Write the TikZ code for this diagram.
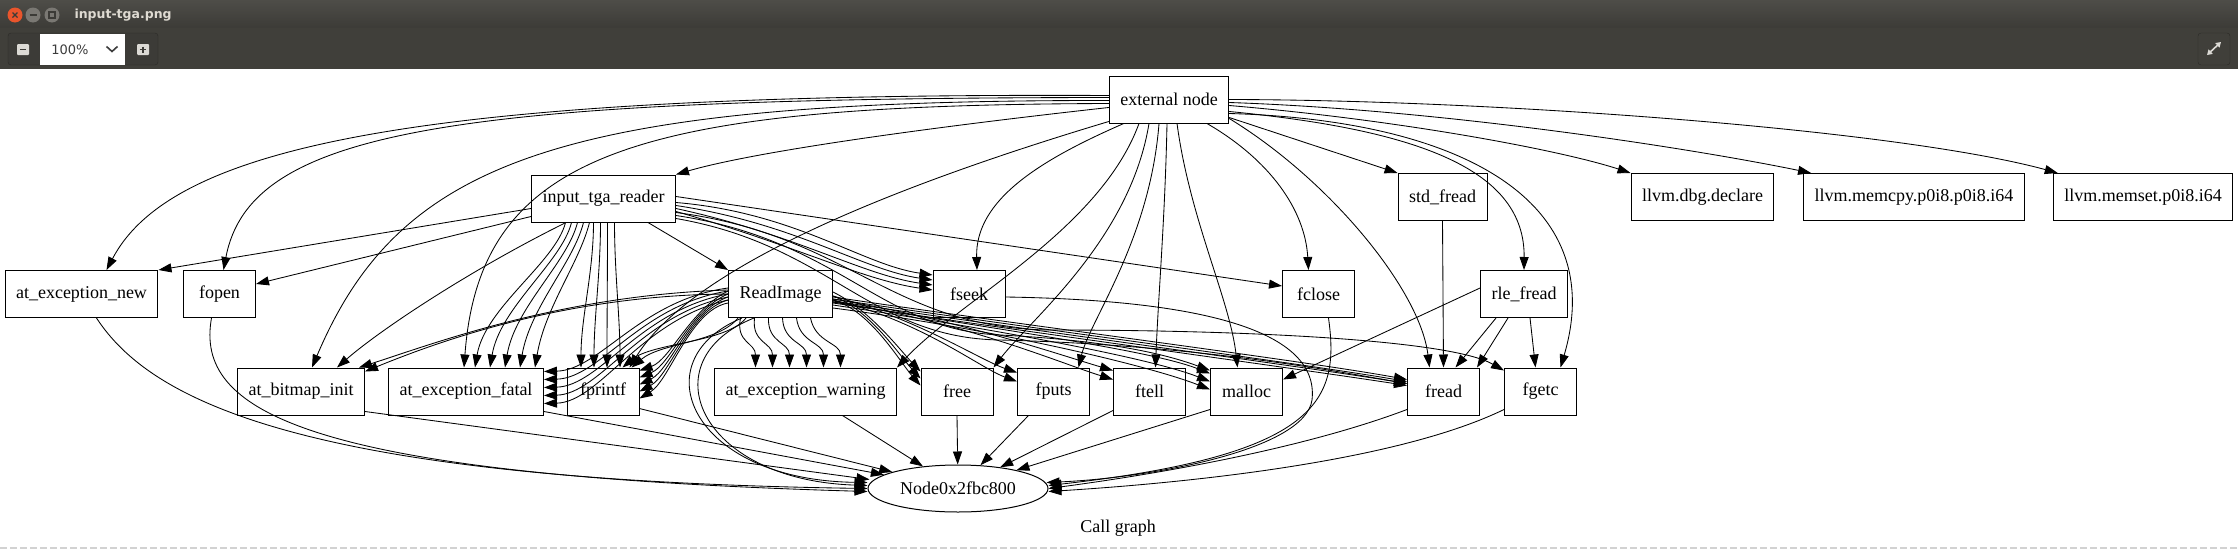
\documentclass[tikz,border=0pt]{standalone}
\usepackage{fontspec}
\setmainfont{Liberation Serif}
\newfontfamily\uifont{DejaVu Sans}
\usetikzlibrary{arrows.meta, calc, shapes.geometric}
\definecolor{titletop}{HTML}{4E4D48}
\definecolor{titlebot}{HTML}{3C3B37}
\definecolor{toolbg}{HTML}{403F3A}
\definecolor{grpborder}{HTML}{2B2A27}
\definecolor{btnlight}{HTML}{DCDAD5}
\definecolor{closered}{HTML}{E9552C}
\definecolor{winbtn}{HTML}{7A7873}
\definecolor{titletext}{HTML}{DFDBD2}
\definecolor{zoomtext}{HTML}{3C3C3C}

\begin{document}
\begin{tikzpicture}[
    x=1pt, y=-1pt,
    fn/.style={draw=black, line width=1pt, font=\fontsize{18}{18}\selectfont,
               minimum width=72pt, minimum height=47pt, inner xsep=11pt},
    arr/.style={-{Triangle[length=13pt, width=9pt]}, line width=0.85pt},
]

\path[use as bounding box] (0,0) rectangle (2238,549);

% ════════════════════════════════════════════════════════
% 0. WINDOW FRAME
% ════════════════════════════════════════════════════════
\shade[top color=titletop, bottom color=titlebot] (0,0) rectangle (2238,28);
\fill[toolbg] (0,28) rectangle (2238,69);
\fill[white] (0,69) rectangle (2238,549);

% Window buttons
\fill[closered] (15,15) circle (7.5);
\draw[titlebot, line width=1.2pt] (12.5,12.5) -- (17.5,17.5) (12.5,17.5) -- (17.5,12.5);
\fill[winbtn] (33,15) circle (7.5);
\draw[titlebot, line width=1.5pt] (29.5,15) -- (36.5,15);
\fill[winbtn] (52,15) circle (7.5);
\draw[titlebot, line width=1.2pt] (49,12) rectangle (55,18);
\node[text=titletext, font=\uifont\bfseries\fontsize{12.5}{14}\selectfont, anchor=west]
    (wintitle) at (71,15) {input-tga.png};

% Zoom controls
\draw[grpborder, fill=titlebot, rounded corners=3pt] (8,33) rectangle (158,65);
\fill[white] (40,34) rectangle (125,65);
\node[text=zoomtext, font=\uifont\fontsize{13}{14}\selectfont] (zoomlevel) at (70,49.5) {100\%};
\draw[zoomtext, line width=1.6pt] (106.5,46.5) -- (112,51.5) -- (117.5,46.5);
\fill[btnlight, rounded corners=1pt] (17,44) rectangle (29,55);
\draw[titlebot, line width=1.5pt] (20,49.5) -- (26,49.5);
\fill[btnlight, rounded corners=1pt] (137,44) rectangle (149,55);
\draw[titlebot, line width=1.5pt] (140,49.5) -- (146,49.5) (143,46.5) -- (143,52.5);

% Fullscreen button
\draw[grpborder, fill=toolbg, rounded corners=3pt] (2198,33) rectangle (2230,65);
\draw[btnlight, line width=1.6pt, {Triangle[length=5pt, width=6pt]}-{Triangle[length=5pt, width=6pt]}]
    (2207,55) -- (2221,42);

% Bottom border
\draw[gray!35, line width=2pt, dash pattern=on 7pt off 3pt] (0,548) -- (2238,548);

% ════════════════════════════════════════════════════════
% 1. CALL GRAPH NODES
% ════════════════════════════════════════════════════════
\node[fn] (extnode)    at (1169,99.5) {external node};
\node[fn] (tgareader)  at (603.5,198.5) {input\_tga\_reader};
\node[fn] (stdfread)   at (1442.5,197) {std\_fread};
\node[fn] (dbgdeclare) at (1702.5,197) {llvm.dbg.declare};
\node[fn] (memcpy)     at (1914,197) {llvm.memcpy.p0i8.p0i8.i64};
\node[fn] (memset)     at (2143,197) {llvm.memset.p0i8.i64};

\node[fn] (excnew)    at (81.5,294) {at\_exception\_new};
\node[fn] (fopen)     at (219.5,294) {fopen};
\node[fn] (readimage) at (780.5,294) {ReadImage};
\node[fn] (fseek)     at (969,294) {fseek};
\node[fn] (fclose)    at (1318.5,294) {fclose};
\node[fn] (rlefread)  at (1524,294) {rle\_fread};

\node[fn] (bitmapinit) at (301,391.5) {at\_bitmap\_init};
\node[fn] (excfatal)   at (466,391.5) {at\_exception\_fatal};
\node[fn] (fprintf)    at (603,391.5) {fprintf};
\node[fn] (excwarning) at (805.5,391.5) {at\_exception\_warning};
\node[fn] (free)       at (957,391.5) {free};
\node[fn] (fputs)      at (1053.5,391.5) {fputs};
\node[fn] (ftell)      at (1149.5,391.5) {ftell};
\node[fn] (malloc)     at (1246.5,391.5) {malloc};
\node[fn] (fread)      at (1443.5,391.5) {fread};
\node[fn] (fgetc)      at (1540.5,391.5) {fgetc};

\node[draw, ellipse, line width=1pt, minimum width=180pt, minimum height=47pt, inner sep=0pt,
      font=\fontsize{18}{18}\selectfont] (callnode) at (958,488.5) {Node0x2fbc800};
\node[font=\fontsize{18}{18}\selectfont] (caption) at (1118,528) {Call graph};

% ════════════════════════════════════════════════════════
% 2. EDGES FROM external node
% ════════════════════════════════════════════════════════
\draw[arr] ($(extnode.west)+(0,-4)$) .. controls (400,92) and (170,150) .. ($(excnew.north)+(25,0)$);
\draw[arr] ($(extnode.west)+(0,-2)$) .. controls (450,98) and (250,130) .. ($(fopen.north)+(4,0)$);
\draw[arr] ($(extnode.west)+(0,1)$) .. controls (560,100) and (400,160) .. ($(bitmapinit.north)+(11,0)$);
\draw[arr] ($(extnode.west)+(0,4)$) .. controls (640,105) and (480,150) .. ($(excfatal.north)+(-2,0)$);
\draw[arr] ($(extnode.west)+(0,8)$) .. controls (950,125) and (760,150) .. (tgareader.north east);
\draw[arr] ($(extnode.south west)+(0,-2)$) .. controls (880,190) and (690,270) .. ($(fprintf.north east)+(-10,0)$);
\draw[arr] ($(extnode.south west)+(15,0)$) .. controls (1040,160) and (975,200) .. ($(fseek.north)+(8,0)$);
\draw[arr] ($(extnode.south)+(-30,0)$) .. controls (1100,230) and (960,300) .. (excwarning.north east);
\draw[arr] ($(extnode.south)+(-20,0)$) .. controls (1130,240) and (1030,320) .. (free.north east);
\draw[arr] ($(extnode.south)+(-10,0)$) .. controls (1150,240) and (1090,320) .. ($(fputs.north)+(25,0)$);
\draw[arr] ($(extnode.south)+(-2,0)$) .. controls (1165,220) and (1158,300) .. ($(ftell.north)+(6,0)$);
\draw[arr] ($(extnode.south)+(8,0)$) .. controls (1190,220) and (1230,300) .. ($(malloc.north)+(-9,0)$);
\draw[arr] ($(extnode.south)+(38,0)$) .. controls (1270,160) and (1305,210) .. ($(fclose.north)+(-10,0)$);
\draw[arr] ($(extnode.south east)+(0,-5)$) .. controls (1330,180) and (1420,290) .. ($(fread.north)+(-14,0)$);
\draw[arr] ($(extnode.east)+(0,18)$) -- (stdfread.north west);
\draw[arr] ($(extnode.east)+(0,12)$) .. controls (1420,130) and (1525,170) .. (rlefread.north);
\draw[arr] ($(extnode.east)+(0,14)$) .. controls (1460,120) and (1610,200) .. ($(fgetc.north)+(20,0)$);
\draw[arr] ($(extnode.east)+(0,6)$) .. controls (1400,120) and (1560,150) .. (dbgdeclare.north west);
\draw[arr] ($(extnode.east)+(0,3)$) .. controls (1450,110) and (1700,150) .. ($(memcpy.north west)+(8,0)$);
\draw[arr] ($(extnode.east)+(0,0)$) .. controls (1500,100) and (1900,130) .. ($(memset.north west)+(5,0)$);

% ════════════════════════════════════════════════════════
% 3. EDGES FROM input_tga_reader
% ════════════════════════════════════════════════════════
\draw[arr] ($(tgareader.west)+(0,10)$) -- (excnew.north east);
\draw[arr] ($(tgareader.west)+(0,18)$) -- ($(fopen.east)+(0,-10)$);
\draw[arr] ($(tgareader.south west)+(35,0)$) .. controls (470,270) and (380,330) .. ($(bitmapinit.north)+(36,0)$);
\foreach \k in {0,...,4}
    \draw[arr] ($(tgareader.south)+(-38+\k*6,0)$) .. controls +(-10,40) and +(10,-60) .. ($(excfatal.north)+(9+\k*15,0)$);
\foreach \k in {0,...,3}
    \draw[arr] ($(tgareader.south)+(-10+\k*7,0)$) .. controls +(0,50) and +(0,-50) .. ($(fprintf.north)+(-22+\k*13,0)$);
\draw[arr] ($(tgareader.south east)+(-28,0)$) -- (readimage.north west);
\foreach \k in {0,...,3}
    \draw[arr] ($(tgareader.east)+(0,4+\k*3)$) .. controls +(120,10+\k*8) and +(-70,-10) .. ($(fseek.west)+(0,-19+\k*5)$);
\draw[arr] ($(tgareader.east)+(0,-2)$) -- ($(fclose.west)+(0,-8)$);
\draw[arr] ($(tgareader.east)+(0,17)$) .. controls (840,240) and (880,330) .. (1000,335)
    .. controls (1100,340) and (1160,352) .. ($(malloc.north west)+(0,3)$);
\draw[arr] ($(tgareader.east)+(0,20)$) .. controls (830,245) and (870,338) .. (1000,340)
    .. controls (1200,345) and (1340,372) .. ($(fread.west)+(0,-8)$);
\draw[arr] ($(tgareader.east)+(0,14)$) .. controls (850,235) and (890,328) .. (1050,330)
    .. controls (1250,330) and (1450,340) .. ($(fgetc.north west)+(0,3)$);

% ════════════════════════════════════════════════════════
% 4. EDGES FROM ReadImage
% ════════════════════════════════════════════════════════
\foreach \k in {0,1}
    \draw[arr] ($(readimage.west)+(0,-4+\k*4)$) .. controls (560,295) and (430,345) .. ($(bitmapinit.north east)+(-6+\k*6,\k*4)$);
\foreach \k in {0,...,4}
    \draw[arr] ($(readimage.west)+(0,-6+\k*3)$) .. controls (640,300+\k*5) and (600,370+\k*8) .. ($(excfatal.north east)+(0,4+\k*8)$);
\foreach \k in {0,...,4}
    \draw[arr] ($(readimage.west)+(0,-3+\k*3)$) .. controls (690,310) and (670,360+\k*5) .. ($(fprintf.north east)+(0,3+\k*7)$);
\foreach \k in {0,1}
    \draw[arr] ($(readimage.south west)+(10+\k*8,0)$) .. controls +(-20,25) and +(30,-25) .. ($(fprintf.north east)+(-8-\k*9,0)$);
\foreach \k in {0,...,5}
    \draw[arr] ($(readimage.south)+(-40+\k*14,0)$) .. controls +(-5+\k*2,25) and +(0,-25) .. ($(excwarning.north)+(-50+\k*17,0)$);
\foreach \k in {0,1,2}
    \draw[arr] ($(readimage.east)+(0,-2+\k*4)$) .. controls (870,310) and (900,350+\k*6) .. ($(free.north west)+(0,4+\k*7)$);
\foreach \k in {0,1}
    \draw[arr] ($(readimage.east)+(0,2+\k*4)$) .. controls (920,320) and (980,360+\k*8) .. ($(fputs.north west)+(0,5+\k*9)$);
\foreach \k in {0,1}
    \draw[arr] ($(readimage.east)+(0,5+\k*3)$) .. controls (960,320) and (1060,355+\k*8) .. ($(ftell.north west)+(0,3+\k*9)$);
\foreach \k in {0,1,2}
    \draw[arr] ($(readimage.east)+(0,8+\k*3)$) .. controls (1000,330) and (1150,350+\k*8) .. ($(malloc.north west)+(0,6+\k*8)$);
\foreach \k in {0,...,3}
    \draw[arr] ($(readimage.east)+(0,3+\k*2)$) .. controls (1000,322+\k*2) and (1300,360+\k*3) .. ($(fread.west)+(0,-12+\k*2)$);
\foreach \k in {0,1}
    \draw[arr] ($(readimage.south west)+(14+\k*12,0)$) .. controls (640+\k*8,360) and (690+\k*8,480) .. ($(callnode.west)+(0,-6+\k*3)$);

% ════════════════════════════════════════════════════════
% 5. OTHER CALLERS
% ════════════════════════════════════════════════════════
\draw[arr] (stdfread.south) -- (fread.north);
\draw[arr] ($(rlefread.south)+(-28,0)$) -- ($(fread.north)+(12,0)$);
\draw[arr] ($(rlefread.south)+(-16,0)$) -- ($(fread.north east)+(-3,0)$);
\draw[arr] ($(rlefread.south)+(6,0)$) -- ($(fgetc.north)+(-5,0)$);
\draw[arr] ($(rlefread.west)+(0,-6)$) -- ($(malloc.east)+(0,-12)$);

% ════════════════════════════════════════════════════════
% 6. EDGES INTO Node0x2fbc800
% ════════════════════════════════════════════════════════
\draw[arr] ($(excnew.south)+(15,0)$) .. controls (150,400) and (300,480) .. ($(callnode.west)+(0,0)$);
\draw[arr] ($(fopen.south)+(-8,0)$) .. controls (195,410) and (300,475) .. ($(callnode.west)+(0,3)$);
\draw[arr] ($(bitmapinit.east)+(0,20)$) -- ($(callnode.west)+(2,-9)$);
\draw[arr] ($(excfatal.east)+(0,20)$) -- (callnode);
\draw[arr] ($(fprintf.east)+(0,17)$) -- (callnode);
\draw[arr] ($(excwarning.south)+(37,0)$) -- (callnode);
\draw[arr] (free.south) -- (callnode);
\draw[arr] ($(fputs.south)+(-25,0)$) -- (callnode);
\draw[arr] ($(ftell.south west)+(0,-5)$) -- (callnode);
\draw[arr] ($(malloc.south west)+(0,-6)$) -- (callnode);
\draw[arr] ($(fseek.east)+(0,3)$) .. controls (1200,300) and (1320,330) .. (1312,400)
    .. controls (1305,450) and (1150,478) .. ($(callnode.east)+(-2,-6)$);
\draw[arr] ($(fclose.south)+(10,0)$) .. controls (1340,400) and (1320,455) .. ($(callnode.east)+(0,-3)$);
\draw[arr] ($(fread.south west)+(0,-6)$) .. controls (1300,450) and (1150,475) .. ($(callnode.east)+(0,0)$);
\draw[arr] ($(fgetc.south west)+(0,-6)$) .. controls (1400,460) and (1200,482) .. ($(callnode.east)+(0,3)$);

\end{tikzpicture}
\end{document}
